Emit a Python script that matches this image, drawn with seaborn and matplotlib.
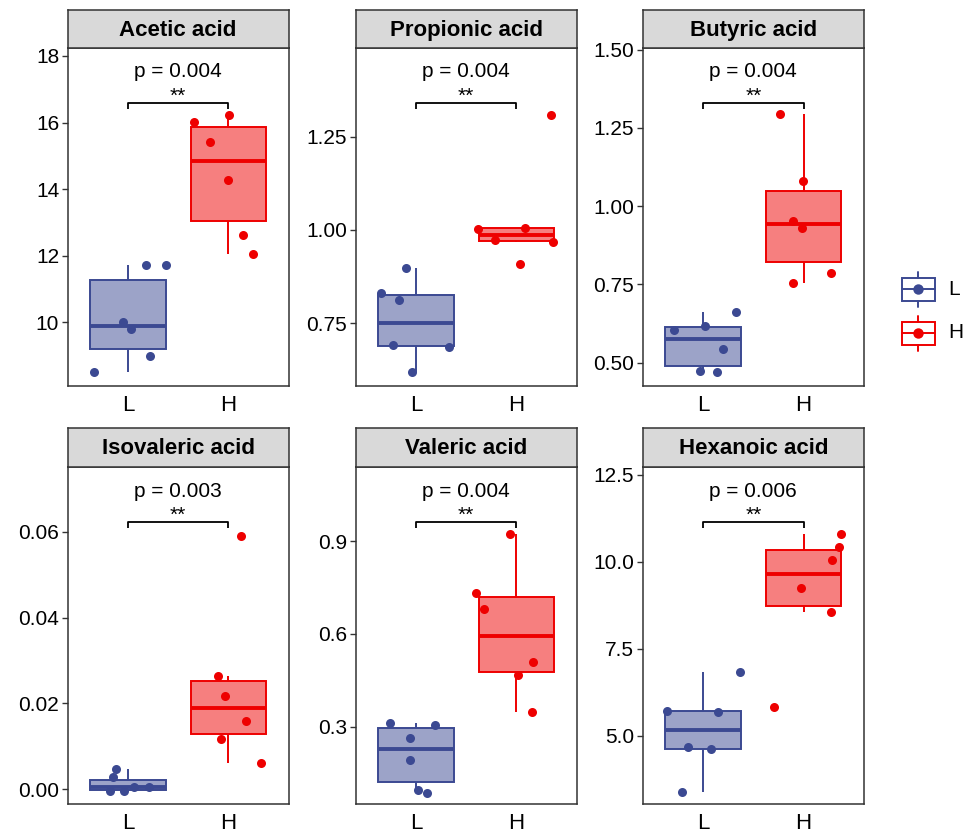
import matplotlib
matplotlib.use('Agg')  # no display
import matplotlib.pyplot as plt
import matplotlib.colors as mcolors
from matplotlib.patches import Rectangle
from matplotlib.ticker import FormatStrFormatter
import seaborn as sns
import numpy as np
import pandas as pd

sns.set_theme(style="white")
plt.rcParams['font.family'] = ['Liberation Sans', 'DejaVu Sans']

# ---- data ----
groups = ['L', 'H']
acids = ['Acetic acid', 'Propionic acid', 'Butyric acid',
         'Isovaleric acid', 'Valeric acid', 'Hexanoic acid']

acetic_L = [8.50, 8.99, 10.02, 11.71, 11.71, 9.79]
acetic_H = [16.22, 16.02, 15.42, 14.27, 12.62, 12.06]
propionic_L = [0.897, 0.832, 0.812, 0.687, 0.692, 0.620]
propionic_H = [1.308, 1.002, 1.006, 0.968, 0.973, 0.909]
butyric_L = [0.662, 0.605, 0.616, 0.544, 0.469, 0.472]
butyric_H = [1.293, 1.080, 0.953, 0.930, 0.755, 0.785]
isovaleric_L = [0.0005, 0.0028, 0.0006, -0.0004, -0.0004, 0.0047]
isovaleric_H = [0.0591, 0.0263, 0.0218, 0.0160, 0.0118, 0.0061]
valeric_L = [0.312, 0.305, 0.264, 0.191, 0.087, 0.096]
valeric_H = [0.923, 0.731, 0.681, 0.508, 0.466, 0.346]
hexanoic_L = [6.83, 5.68, 5.72, 4.66, 4.61, 3.39]
hexanoic_H = [10.80, 10.42, 10.06, 9.24, 8.56, 5.81]

p_values = ['0.004', '0.004', '0.004', '0.003', '0.004', '0.006']
signif = ['**', '**', '**', '**', '**', '**']

y_ticks = [[10, 12, 14, 16, 18],
           [0.75, 1.00, 1.25],
           [0.50, 0.75, 1.00, 1.25, 1.50],
           [0.00, 0.02, 0.04, 0.06],
           [0.3, 0.6, 0.9],
           [5.0, 7.5, 10.0, 12.5]]
y_limits = [(8.10, 18.24), (0.583, 1.487), (0.4265, 1.505),
            (-0.0035, 0.075), (0.049, 1.139), (3.025, 12.72)]
tick_fmt = ['%d', '%.2f', '%.2f', '%.2f', '%.1f', '%.1f']

values = {
    'Acetic acid': (acetic_L, acetic_H),
    'Propionic acid': (propionic_L, propionic_H),
    'Butyric acid': (butyric_L, butyric_H),
    'Isovaleric acid': (isovaleric_L, isovaleric_H),
    'Valeric acid': (valeric_L, valeric_H),
    'Hexanoic acid': (hexanoic_L, hexanoic_H),
}
rows = []
for acid in acids:
    for g, vals in zip(groups, values[acid]):
        for v in vals:
            rows.append({'acid': acid, 'group': g, 'value': v})
df = pd.DataFrame(rows)

pal = {'L': '#3B4992', 'H': '#EE0000'}
border = '#333333'

# ---- layout in pixels ----
W, H = 966, 835
fig = plt.figure(figsize=(W / 100, H / 100), dpi=100)
col_left = [67.5, 355.5, 642.7]
panel_w = 221.3
row_top = [48.0, 467.3]      # plot area top
row_bot = [385.7, 804.3]     # plot area bottom
strip_h = [38.2, 39.0]

np.random.seed(7)
for i, acid in enumerate(acids):
    r, c = divmod(i, 3)
    left = col_left[c]
    ax = fig.add_axes([left / W, 1 - row_bot[r] / H, panel_w / W,
                       (row_bot[r] - row_top[r]) / H])
    sub = df[df['acid'] == acid]

    for g in groups:
        n0 = len(ax.patches)
        sns.boxplot(data=sub[sub['group'] == g], x='group', y='value', order=groups,
                    color=pal[g], linecolor=pal[g], saturation=1, width=0.75,
                    linewidth=1.4, showfliers=False,
                    medianprops={'linewidth': 2.8},
                    capprops={'visible': False}, ax=ax)
        for p in ax.patches[n0:]:
            p.set_facecolor(mcolors.to_rgba(pal[g], 0.5))
            p.set_edgecolor(pal[g])
    for g in groups:
        sns.stripplot(data=sub[sub['group'] == g], x='group', y='value', order=groups,
                      color=pal[g], size=6.5, jitter=0.4, linewidth=0,
                      zorder=3, ax=ax)

    ax.set_xlim(-0.6, 1.6)
    ax.set_ylim(*y_limits[i])
    ax.set_yticks(y_ticks[i])
    ax.yaxis.set_major_formatter(FormatStrFormatter(tick_fmt[i]))
    ax.set_xlabel('')
    ax.set_ylabel('')
    for s in ax.spines.values():
        s.set_color(border)
        s.set_linewidth(1.1)
    ax.tick_params(axis='x', length=0, labelsize=16, pad=6.5, colors='black')
    ax.tick_params(axis='y', left=True, length=4, width=1, color=border,
                   labelsize=15, pad=2, labelcolor='black')

    # significance bracket
    tr = ax.get_xaxis_transform()
    ax.plot([0, 0, 1, 1], [0.82, 0.838, 0.838, 0.82], transform=tr,
            color='black', lw=1.3, solid_capstyle='butt')
    ax.text(0.5, 0.829, signif[i], transform=tr, ha='center', va='bottom',
            fontsize=15, color='black')
    ax.text(0.5, 0.929, f'p = {p_values[i]}', transform=tr, ha='center',
            va='center', fontsize=15, color='black')

    # facet strip
    sax = fig.add_axes([left / W, 1 - row_top[r] / H, panel_w / W, strip_h[r] / H])
    sax.set_facecolor('#D9D9D9')
    sax.set_xticks([])
    sax.set_yticks([])
    for s in sax.spines.values():
        s.set_color(border)
        s.set_linewidth(1.1)
    sax.text(0.5, 0.47, acid, transform=sax.transAxes, ha='center', va='center',
             fontsize=16, fontweight='bold', color='black')

# ---- legend drawn by hand ----
lax = fig.add_axes([0, 0, 1, 1], facecolor='none')
lax.set_xlim(0, W)
lax.set_ylim(H, 0)
lax.axis('off')
for g, yc in zip(groups, [289.3, 333.0]):
    col = pal[g]
    lax.add_patch(Rectangle((901.7, yc - 11.5), 33.3, 23, facecolor='white',
                            edgecolor=col, lw=1.4))
    lax.plot([901.7, 935], [yc, yc], color=col, lw=1.4)
    lax.plot([918.3, 918.3], [yc - 17.5, yc - 11.5], color=col, lw=1.4)
    lax.plot([918.3, 918.3], [yc + 11.5, yc + 17.5], color=col, lw=1.4)
    lax.plot([918.3], [yc], 'o', color=col, ms=7.5, mew=0)
    lax.text(948, yc, g, ha='left', va='center', fontsize=15, color='black')

fig.savefig('out.png', dpi=100)
